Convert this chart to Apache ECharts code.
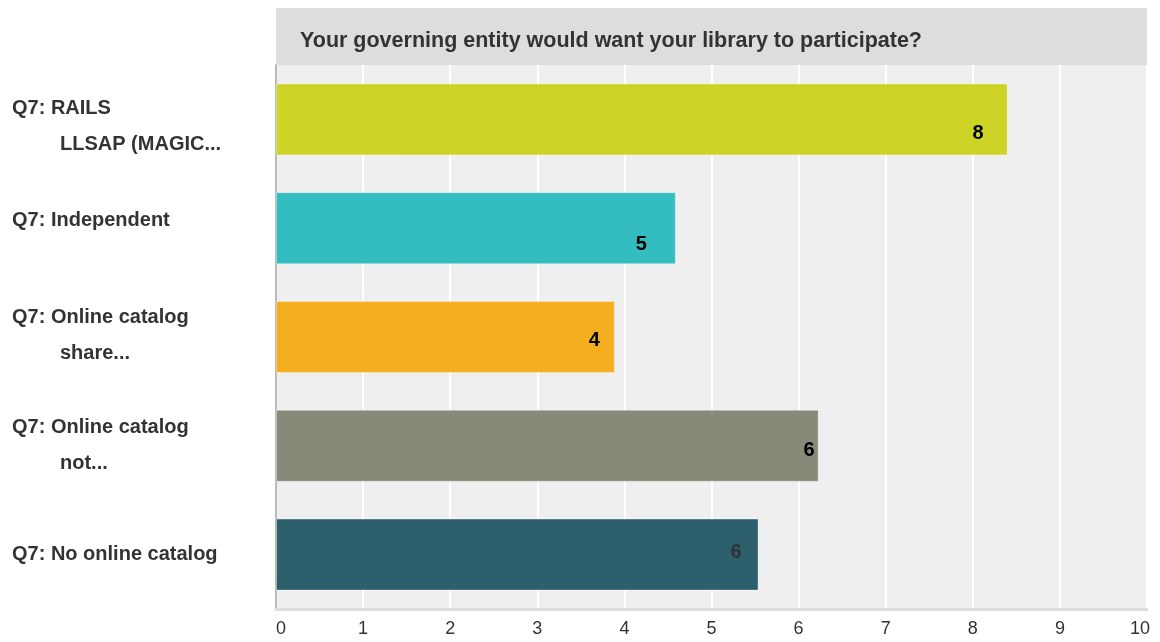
<!DOCTYPE html>
<html>
<head>
<meta charset="utf-8">
<style>
  html, body { margin: 0; padding: 0; background: #ffffff; }
  #chart { width: 1160px; height: 642px; }
</style>
<script src="https://cdn.jsdelivr.net/npm/echarts@6/dist/echarts.min.js"></script>
</head>
<body>
<div id="chart"></div>
<script>
// Survey question and answer categories
const questionTitle = 'Your governing entity would want your library to participate?';
const categoryFirstLines = ['Q7: RAILS', 'Q7: Independent', 'Q7: Online catalog', 'Q7: Online catalog', 'Q7: No online catalog'];
const categorySecondLines = ['LLSAP (MAGIC...', '', 'share...', 'not...', ''];

// Average rating for each category
const averages = [8.40, 4.59, 3.89, 6.23, 5.54];

// Axis ticks
const tickValues = [0, 1, 2, 3, 4, 5, 6, 7, 8, 9, 10];

// Bar fills and value-label styling
const barColors = ['#cdd425', '#33bdc0', '#f5ae1f', '#878a78', '#2e5f6c'];
const valueLabelColors = ['#000000', '#000000', '#000000', '#000000', '#333333'];
const valueLabelGap = [24, 29, 15, 4, 17];
const valueLabelDrop = [14, 16, 3, 5, -2];
// vertical nudge of each category label (px, positive = down)
const categoryLabelNudge = [7, -8, -2, 0, 0];

const categories = categoryFirstLines.map((first, i) =>
  categorySecondLines[i] ? first + '\n' + categorySecondLines[i] : first
);

const labelFont = { fontSize: 20, fontWeight: 'bold', color: '#333333', lineHeight: 36 };

const chart = echarts.init(document.getElementById('chart'), null, { renderer: 'canvas' });

const option = {
  animation: false,
  backgroundColor: '#ffffff',
  textStyle: { fontFamily: '"Liberation Sans", Arial, sans-serif' },
  graphic: [
    {
      type: 'rect',
      shape: { x: 276, y: 8, width: 871, height: 57 },
      style: { fill: '#dddddd' },
      z: 0
    },
    {
      type: 'text',
      left: 300,
      top: 30,
      style: {
        text: questionTitle,
        fill: '#333333',
        font: 'bold 21.5px "Liberation Sans", Arial, sans-serif'
      },
      z: 1
    }
  ],
  grid: {
    left: 276,
    right: 13,
    top: 65,
    bottom: 33,
    outerBoundsMode: 'none',
    containLabel: false,
    show: true,
    backgroundColor: '#efefef',
    borderWidth: 0
  },
  xAxis: {
    type: 'value',
    min: tickValues[0],
    max: tickValues[tickValues.length - 1],
    interval: 1,
    axisLine: { show: true, lineStyle: { color: '#dddddd', width: 3 } },
    axisTick: { show: false },
    splitLine: { show: true, lineStyle: { color: '#ffffff', width: 2 } },
    axisLabel: {
      color: '#333333',
      fontSize: 18,
      margin: 11,
      formatter: function (v) {
        if (v === tickValues[0]) return '{first|' + v + '}';
        if (v === tickValues[tickValues.length - 1]) return '{last|' + v + '}';
        return String(v);
      },
      rich: {
        first: { fontSize: 18, color: '#333333', padding: [0, 0, 0, 10] },
        last: { fontSize: 18, color: '#333333', padding: [0, 14, 0, 0] }
      }
    }
  },
  yAxis: {
    type: 'category',
    data: categories.map((c, i) => {
      const n = categoryLabelNudge[i];
      return {
        value: c,
        textStyle: {
          align: 'left',
          padding: n >= 0 ? [2 * n, 0, 0, 0] : [0, 0, -2 * n, 0]
        }
      };
    }),
    inverse: true,
    axisLine: { show: true, lineStyle: { color: '#bbbbbb', width: 2 } },
    axisTick: { show: false },
    splitLine: { show: false },
    axisLabel: {
      align: 'left',
      margin: 264,
      formatter: function (value) {
        const parts = value.split('\n');
        let s = '{a|' + parts[0] + '}';
        if (parts[1]) s += '\n{b|' + parts[1] + '}';
        return s;
      },
      rich: {
        a: labelFont,
        b: Object.assign({}, labelFont, { padding: [0, 0, 0, 48] })
      }
    }
  },
  series: [
    {
      type: 'bar',
      barWidth: 72,
      data: averages.map((v, i) => ({
        value: v,
        itemStyle: {
          color: barColors[i],
          borderColor: 'rgba(255,255,255,0.35)',
          borderWidth: 1
        },
        label: {
          distance: valueLabelGap[i],
          offset: [0, valueLabelDrop[i]],
          color: valueLabelColors[i]
        }
      })),
      label: {
        show: true,
        position: 'insideRight',
        fontSize: 20,
        fontWeight: 'bold',
        formatter: function (p) { return String(Math.round(p.value)); }
      }
    }
  ]
};

chart.setOption(option);
</script>
</body>
</html>
